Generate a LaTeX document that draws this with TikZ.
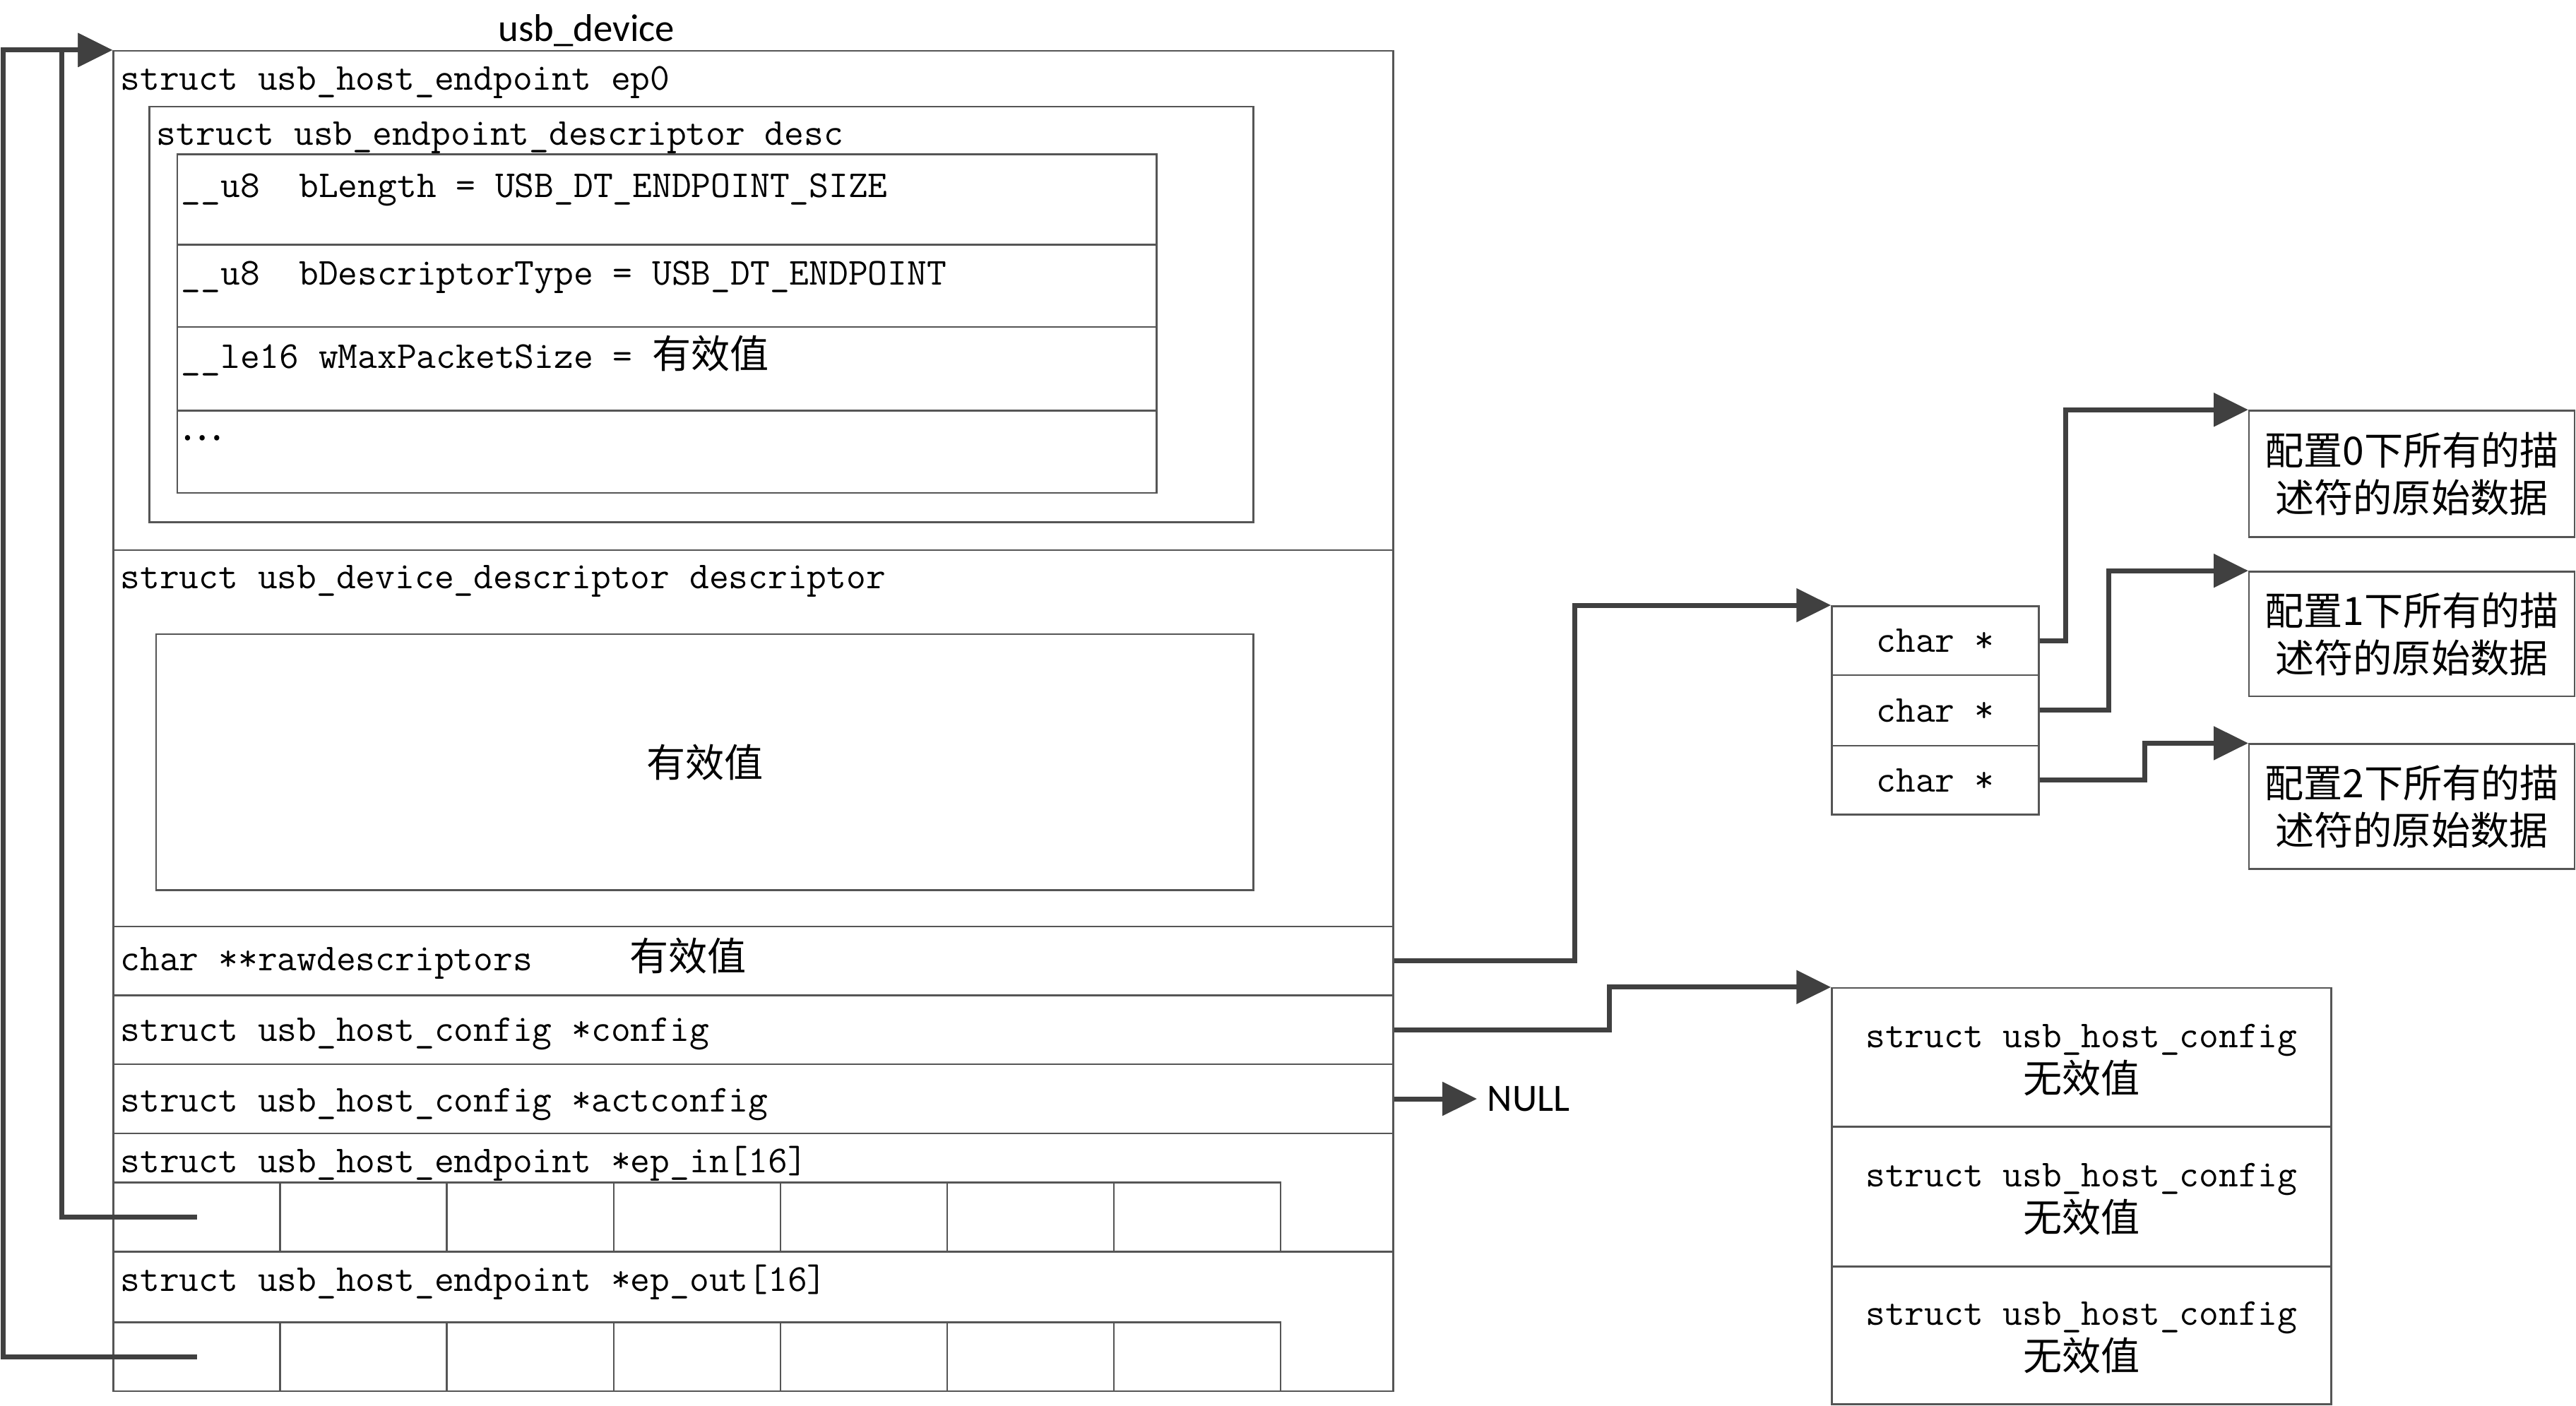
\documentclass[tikz,border=0pt]{standalone}
\usepackage{fontspec}
\newfontfamily\cjk{Noto Sans CJK SC}
\newfontfamily\lblsans{Carlito}
\usetikzlibrary{arrows.meta,fit}
\definecolor{boxgray}{RGB}{85,85,85}
\definecolor{wire}{RGB}{64,64,64}
\begin{document}
\begin{tikzpicture}[x=0.02cm,y=-0.02cm,
  box/.style={draw=boxgray,line width=0.6pt,inner sep=0pt},
  code/.style={anchor=base west,inner sep=0pt,font=\fontsize{13.2}{15}\selectfont\ttfamily},
  han/.style={inner sep=0pt,font=\fontsize{13.5}{16}\selectfont\cjk},
  conn/.style={draw=wire,line width=1.7pt,-{Triangle[length=0.42cm,width=0.4cm]}},
  sanslbl/.style={inner sep=0pt,font=\fontsize{13.4}{16}\selectfont\lblsans}]
\useasboundingbox (0,0) rectangle (1568,856);
\fill[white] (0,0) rectangle (1568,856);
\newcommand\hz[1]{{\cjk\fontsize{13.5}{15}\selectfont #1}}

% ---- usb_device structure ----
\node[sanslbl,anchor=base] (title) at (357,25) {usb\_device};
\node[box,fit={(69,31)(848,847)}] (dev) {};
\node[box,fit={(69,31)(848,335)}] (ep0) {};
\node[code] (tep0) at (73,55) {struct usb\_host\_endpoint ep0};
\node[box,fit={(91,65)(763,318)}] (desc) {};
\node[code] (tdesc) at (95,88.5) {struct usb\_endpoint\_descriptor desc};
\node[box,fit={(108,94)(704,149)}] (r1) {};
\node[box,fit={(108,149)(704,199)}] (r2) {};
\node[box,fit={(108,199)(704,250)}] (r3) {};
\node[box,fit={(108,250)(704,300)}] (r4) {};
\node[code] (tr1) at (110,120) {\_\_u8\ \ bLength = USB\_DT\_ENDPOINT\_SIZE};
\node[code] (tr2) at (110,173.5) {\_\_u8\ \ bDescriptorType = USB\_DT\_ENDPOINT};
\node[code] (tr3) at (110,224) {\_\_le16 wMaxPacketSize = \hz{有效值}};
\node[code] (tr4) at (110,268) {\hz{…}};

\node[box,fit={(69,335)(848,564)}] (ddesc) {};
\node[code] (tddesc) at (73,358.5) {struct usb\_device\_descriptor descriptor};
\node[box,fit={(95,386)(763,542)}] (dval) {};
\node[han] (tdval) at (dval.center) {有效值};

\node[box,fit={(69,564)(848,606)}] (raw) {};
\node[code] (traw) at (73,591) {char **rawdescriptors};
\node[code] (trawv) at (383,591) {\hz{有效值}};
\node[box,fit={(69,606)(848,648)}] (cfg) {};
\node[code] (tcfg) at (73,634) {struct usb\_host\_config *config};
\node[box,fit={(69,648)(848,690)}] (act) {};
\node[code] (tact) at (73,677) {struct usb\_host\_config *actconfig};
\node[box,fit={(69,690)(848,762)}] (epin) {};
\node[code] (tepin) at (73,714) {struct usb\_host\_endpoint *ep\_in[16]};
\node[box,fit={(69,762)(848,847)}] (epout) {};
\node[code] (tepout) at (73,786) {struct usb\_host\_endpoint *ep\_out[16]};
\foreach \i in {0,...,6}{
  \node[box,fit={({69+101.5*\i},720)({170.5+101.5*\i},762)}] (in\i) {};
  \node[box,fit={({69+101.5*\i},805)({170.5+101.5*\i},847)}] (out\i) {};
}

% ---- raw descriptor pointer array ----
\node[box,fit={(1115,369)(1241,411)}] (c0) {};
\node[box,fit={(1115,411)(1241,454)}] (c1) {};
\node[box,fit={(1115,454)(1241,496)}] (c2) {};
\foreach \i in {0,1,2}{
  \node[inner sep=0pt,font=\fontsize{13.2}{15}\selectfont\ttfamily] at (c\i.center) {char *};
}

% ---- raw data boxes ----
\node[box,fit={(1369,250)(1567,327)}] (k0) {};
\node[box,fit={(1369,348)(1567,424)}] (k1) {};
\node[box,fit={(1369,453)(1567,529)}] (k2) {};
\foreach \i in {0,1,2}{
  \node[inner sep=0pt,align=center,font=\fontsize{13.5}{16.4}\selectfont\cjk] at (k\i.center) {配置\i 下所有的描\\述符的原始数据};
}

% ---- usb_host_config array ----
\node[box,fit={(1115,601.5)(1419,686)}] (h0) {};
\node[box,fit={(1115,686)(1419,771)}] (h1) {};
\node[box,fit={(1115,771)(1419,855)}] (h2) {};
\foreach \i in {0,1,2}{
  \node[inner sep=0pt,align=center,font=\fontsize{13.2}{15.6}\selectfont] at ([yshift=-0.03cm]h\i.center) {{\ttfamily struct usb\_host\_config}\\{\cjk\fontsize{13.5}{15.6}\selectfont 无效值}};
}

\node[sanslbl,anchor=west,inner xsep=0.12cm] (null) at (899,669) {NULL};

% ---- connectors ----
\draw[conn] (out0.center) -- ++(-117.75,0) |- (dev.north west);
\draw[conn] (in0.center) -- ++(-82,0) |- (dev.north west);
\draw[conn] (raw.east) -- ++(110,0) |- (c0.north west);
\draw[conn] (cfg.east) -- ++(131,0) |- (h0.north west);
\draw[conn] (act.east) -- (null.west);
\draw[conn] (c0.east) -- ++(16,0) |- (k0.north west);
\draw[conn] (c1.east) -- ++(42,0) |- (k1.north west);
\draw[conn] (c2.east) -- ++(64,0) |- (k2.north west);
\end{tikzpicture}
\end{document}
